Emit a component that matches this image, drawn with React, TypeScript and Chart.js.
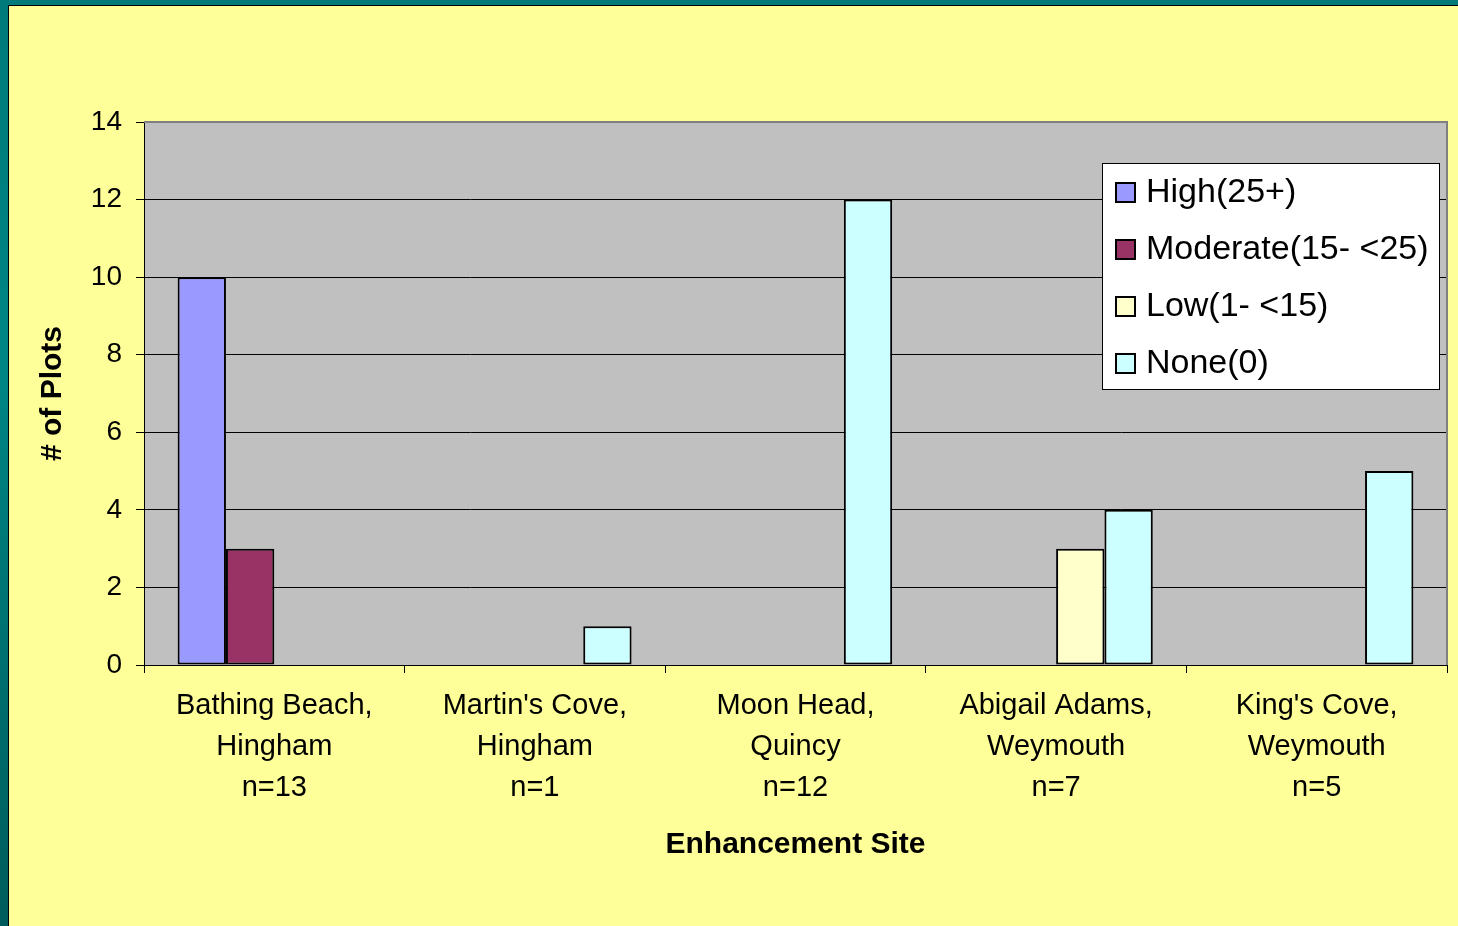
import React, { useEffect, useRef } from "react";
import { Chart, registerables } from "chart.js";

Chart.register(...registerables);

const categories: string[][] = [
  ["Bathing Beach,", "Hingham", "n=13"],
  ["Martin's Cove,", "Hingham", "n=1"],
  ["Moon Head,", "Quincy", "n=12"],
  ["Abigail Adams,", "Weymouth", "n=7"],
  ["King's Cove,", "Weymouth", "n=5"],
];
const seriesNames = ["High(25+)", "Moderate(15- <25)", "Low(1- <15)", "None(0)"];
const highValues: (number | null)[] = [10, null, null, null, null];
const moderateValues: (number | null)[] = [3, null, null, null, null];
const lowValues: (number | null)[] = [null, null, null, 3, null];
const noneValues: (number | null)[] = [null, 1, 12, 4, 5];
const seriesColors = ["#9999FF", "#993366", "#FFFFCC", "#CCFFFF"];
const yMin = 0;
const yMax = 14;
const yStep = 2;
const xTitle = "Enhancement Site";
const yTitle = "# of Plots";

const FONT = "'Liberation Sans', Arial, Helvetica, sans-serif";

const plotBgPlugin = {
  id: "plotBg",
  beforeDraw(chart: any) {
    const { ctx, chartArea } = chart;
    ctx.save();
    ctx.fillStyle = "#C0C0C0";
    ctx.fillRect(chartArea.left, chartArea.top, chartArea.right - chartArea.left, chartArea.bottom - chartArea.top);
    ctx.restore();
  },
  afterDatasetsDraw(chart: any) {
    const { ctx, chartArea } = chart;
    ctx.save();
    ctx.strokeStyle = "#808080";
    ctx.lineWidth = 2;
    ctx.beginPath();
    ctx.moveTo(chartArea.left, chartArea.top);
    ctx.lineTo(chartArea.right, chartArea.top);
    ctx.lineTo(chartArea.right, chartArea.bottom);
    ctx.stroke();
    ctx.restore();
  },
};

const boxLegendPlugin = {
  id: "boxLegend",
  afterDraw(chart: any) {
    const { ctx, chartArea } = chart;
    const right = chartArea.right - 7;
    const left = right - 338;
    const top = chartArea.top + 41;
    const height = 227;
    ctx.save();
    ctx.fillStyle = "#FFFFFF";
    ctx.fillRect(left, top, right - left, height);
    ctx.strokeStyle = "#000000";
    ctx.lineWidth = 1;
    ctx.strokeRect(left + 0.5, top + 0.5, right - left - 1, height - 1);
    ctx.font = `34px ${FONT}`;
    ctx.textBaseline = "middle";
    ctx.textAlign = "left";
    chart.data.datasets.forEach((ds: any, i: number) => {
      const cy = top + 29 + i * 57;
      ctx.fillStyle = ds.backgroundColor;
      ctx.fillRect(left + 14, cy - 9, 19, 19);
      ctx.strokeStyle = "#000000";
      ctx.lineWidth = 2;
      ctx.strokeRect(left + 14, cy - 9, 19, 19);
      ctx.fillStyle = "#000000";
      ctx.fillText(ds.label, left + 44, cy + 1);
    });
    ctx.restore();
  },
};

export default function App() {
  const ref = useRef<HTMLCanvasElement | null>(null);

  useEffect(() => {
    if (!ref.current) return;
    const seriesValues = [highValues, moderateValues, lowValues, noneValues];
    const chart = new Chart(ref.current, {
      type: "bar",
      data: {
        labels: categories,
        datasets: seriesNames.map((name, i) => ({
          label: name,
          data: seriesValues[i],
          backgroundColor: seriesColors[i],
          borderColor: "#000000",
          borderWidth: 2,
          borderSkipped: false,
          categoryPercentage: 0.742,
          barPercentage: 1,
        })),
      },
      options: {
        responsive: false,
        animation: false,
        devicePixelRatio: 1,
        layout: { padding: { top: 122, right: 11, left: 0, bottom: 0 } },
        plugins: {
          legend: { display: false },
          tooltip: { enabled: false },
        },
        scales: {
          x: {
            grid: {
              display: true,
              offset: true,
              drawOnChartArea: false,
              drawTicks: true,
              tickLength: 8,
              color: "#000000",
              tickColor: "#000000",
            },
            border: { display: true, color: "#000000", width: 1 },
            ticks: {
              color: "#000000",
              padding: 13,
              maxRotation: 0,
              autoSkip: false,
              font: { family: FONT, size: 29, lineHeight: 1.4 },
            },
            title: {
              display: true,
              text: xTitle,
              color: "#000000",
              font: { family: FONT, size: 30, weight: "bold" },
              padding: { top: 0, bottom: 63 },
            },
            afterFit(scale: any) {
              scale.height = 261;
            },
          },
          y: {
            min: yMin,
            max: yMax,
            grid: {
              color: (c: any) => (c.tick && c.tick.value === yMax ? "rgba(0,0,0,0)" : "#000000"),
              tickColor: "#000000",
              tickLength: 8,
              lineWidth: 1,
            },
            border: { display: true, color: "#000000", width: 1 },
            ticks: {
              stepSize: yStep,
              color: "#000000",
              padding: 14,
              font: { family: FONT, size: 28 },
            },
            title: {
              display: true,
              text: yTitle,
              color: "#000000",
              font: { family: FONT, size: 30, weight: "bold" },
              padding: { top: 35, bottom: 0 },
            },
            afterFit(scale: any) {
              scale.width = 144;
            },
          },
        },
      },
      plugins: [plotBgPlugin, boxLegendPlugin],
    });
    return () => chart.destroy();
  }, []);

  return (
    <div
      style={{
        position: "fixed",
        left: 0,
        top: 0,
        width: 1458,
        height: 926,
        overflow: "hidden",
        background: "linear-gradient(180deg, #007a7a 0%, #008585 40%, #005c5c 100%)",
      }}
    >
      <div
        style={{
          position: "absolute",
          left: 8,
          top: 5,
          width: 1450,
          height: 921,
          borderLeft: "1px solid #000",
          borderTop: "1px solid #000",
          boxSizing: "border-box",
          background: "#FFFF99",
        }}
      />
      <canvas
        ref={ref}
        width={1458}
        height={926}
        style={{ position: "absolute", left: 0, top: 0, width: 1458, height: 926 }}
      />
    </div>
  );
}
